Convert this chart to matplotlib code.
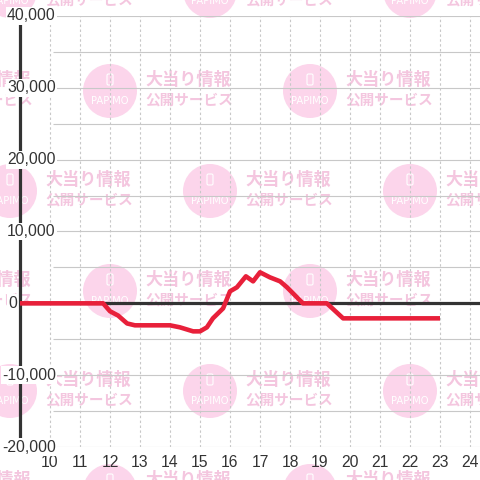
import matplotlib
matplotlib.use("Agg")
import matplotlib.pyplot as plt
from matplotlib.patches import Circle, FancyBboxPatch
import matplotlib.transforms as mtransforms

# ---- data ----
hours = [9.0, 11.67, 11.77, 12.0, 12.27, 12.57, 12.83, 14.0, 14.33, 14.77, 15.0,
         15.23, 15.43, 15.77, 16.0, 16.23, 16.53, 16.77, 17.0, 17.33, 17.67,
         17.9, 18.43, 19.23, 19.77, 23.0]
values = [0, 0, 0, -1100, -1700, -2800, -3060, -3060, -3340, -3900, -3900,
          -3340, -2090, -700, 1670, 2230, 3760, 3060, 4320, 3620, 3060,
          2230, 0, 0, -2090, -2090]
y_ticks = [40000, 30000, 20000, 10000, 0, -10000, -20000]
y_tick_labels = ["40,000", "30,000", "20,000", "10,000", "0", "-10,000", "-20,000"]
x_ticks = list(range(10, 25))
x_tick_labels = [str(t) for t in x_ticks]
grid_y = list(range(-20000, 40001, 5000))

W = H = 480
fig = plt.figure(figsize=(4.8, 4.8), dpi=100)
fig.patch.set_facecolor("white")

# ---- watermark background ----
bg = fig.add_axes([0, 0, 1, 1], zorder=0)
bg.set_xlim(0, W)
bg.set_ylim(H, 0)
bg.axis("off")
circ_col = "#fcd5eb"
txt_col = "#f4c6df"
rows = [-9, 91, 191, 291, 391, 491]
for i, cy in enumerate(rows):
    xs = [10 + 200 * k for k in range(-1, 3)] if i % 2 == 0 else [110 + 200 * k for k in range(-1, 3)]
    for cx in xs:
        bg.add_patch(Circle((cx, cy), 27, facecolor=circ_col, edgecolor="none"))
        bg.add_patch(FancyBboxPatch((cx - 3, cy - 17), 6, 11,
                                    boxstyle="round,pad=0,rounding_size=1.5",
                                    facecolor="none", edgecolor="white", lw=0.8))
        bg.text(cx, cy + 10, "PAPIMO", color="white", fontsize=7.2,
                ha="center", va="center", family="DejaVu Sans")
        bg.text(cx + 35, cy - 11, "大当り情報", color=txt_col, fontsize=12.3,
                ha="left", va="center", weight="bold",
                family=["Noto Sans CJK JP", "DejaVu Sans"])
        bg.text(cx + 35, cy + 9, "公開サービス", color=txt_col, fontsize=10.5,
                ha="left", va="center", weight="bold",
                family=["Noto Sans CJK JP", "DejaVu Sans"])

# ---- main axes ----
left_px, right_px, top_px, bot_px = 20, 480, 16, 447
ax = fig.add_axes([left_px / W, 1 - bot_px / H, (right_px - left_px) / W, (bot_px - top_px) / H],
                  zorder=1)
ax.set_facecolor("none")
xmin, xmax = 9.0, 9.0 + (right_px - left_px) / 30.0
ax.set_xlim(xmin, xmax)
ax.set_ylim(-20000, 40000)
for s in ax.spines.values():
    s.set_visible(False)

grid_x0 = xmin + (53 - left_px) / 30.0
ax.hlines(grid_y, grid_x0, xmax, colors="#c8c8c8", lw=0.8, zorder=1)
ax.vlines(x_ticks, -20000, 40000, colors="#c8c8c8", lw=0.8,
          linestyles=(0, (2.2, 2.2)), zorder=1)
ax.axhline(0, color="#333333", lw=2.3, zorder=2)
ax.axvline(xmin, color="#333333", lw=2.3, zorder=2, clip_on=False)

ax.plot(hours, values, color="#e8203a", lw=3.3, solid_joinstyle="round",
        solid_capstyle="butt", zorder=4, clip_on=False)

ax.set_xticks(x_ticks)
ax.set_xticklabels(x_tick_labels)
ax.tick_params(axis="x", length=0, pad=6, labelsize=11.3, labelcolor="#333333")
for lab in ax.get_xticklabels():
    lab.set_family("Liberation Sans")
ax.set_yticks([])

trans = mtransforms.blended_transform_factory(fig.transFigure, ax.transData)
for v, lab in zip(y_ticks, y_tick_labels):
    xp = 2 if v < 0 else 7
    if v == 0:
        xp = 8
    ax.text(xp / W, v, lab, transform=trans, ha="left", va="center",
            fontsize=11.3, color="#333333", family="Liberation Sans",
            bbox=dict(facecolor="white", edgecolor="none", pad=1.0),
            zorder=5, clip_on=False)

fig.savefig("out.png", dpi=100)
